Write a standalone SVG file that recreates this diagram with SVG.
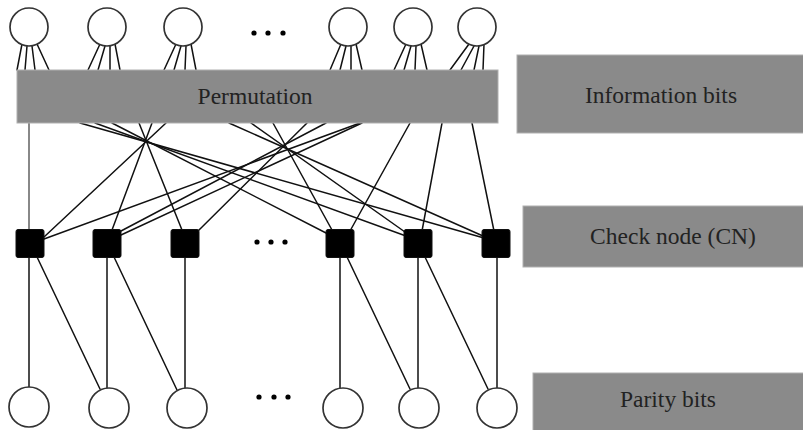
<svg xmlns="http://www.w3.org/2000/svg" width="803" height="430" viewBox="0 0 803 430">
<style>
.bar{fill:#8a8a8a;stroke:#b0b0b0;stroke-width:1}
.lbl{font-family:"Liberation Serif","Times New Roman",serif;font-size:23.5px;fill:#222;text-anchor:middle}
.vn{fill:#fff;stroke:#333;stroke-width:1.7}
.cn{fill:#000;stroke:#111;stroke-width:1}
.e{stroke:#111;stroke-width:1.5;fill:none;stroke-linecap:round}
.g{stroke:#888;stroke-width:2;fill:none}
.dot{fill:#000}
</style>
<rect width="803" height="430" fill="#fff"/>
<g id="connectors">
  <!-- legs of information bit nodes -->
  <g class="e">
    <path d="M22,44 L17,70 M27,46 L25,70 M32,46 L35,70 M37,44 L49,70"/>
    <path d="M100,44 L88,70 M105,46 L98,70 M110,46 L110,70 M115,44 L120,70"/>
    <path d="M176,44 L164,70 M181,46 L174,70 M186,46 L185,70 M191,44 L196,70"/>
    <path d="M341,44 L330,70 M346,46 L340,70 M351,46 L351,70 M356,44 L362,70"/>
    <path d="M406,44 L394,70 M411,46 L404,70 M416,46 L415,70 M421,44 L427,70"/>
    <path d="M469,44 L450,70 M474,46 L461,70 M479,46 L474,70 M484,44 L483,70"/>
  </g>
  <!-- permutation to check nodes -->
  <line class="g" x1="29" y1="123" x2="29" y2="230"/>
  <g class="e">
    <line x1="166" y1="123" x2="44" y2="237"/>
    <line x1="152" y1="123" x2="112" y2="230"/>
    <line x1="139" y1="123" x2="182" y2="230"/>
    <line x1="80" y1="123" x2="484" y2="238"/>
    <line x1="95" y1="123" x2="406" y2="236"/>
    <line x1="112" y1="123" x2="328" y2="234"/>
    <line x1="273" y1="123" x2="332" y2="230"/>
    <line x1="251" y1="123" x2="405" y2="232"/>
    <line x1="229" y1="123" x2="483" y2="236"/>
    <line x1="307" y1="123" x2="198" y2="231"/>
    <line x1="326" y1="123" x2="121" y2="231"/>
    <line x1="362" y1="123" x2="121" y2="235"/>
    <line x1="360" y1="123" x2="44" y2="239"/>
    <line x1="410" y1="123" x2="350" y2="231"/>
    <line x1="442" y1="123" x2="422" y2="231"/>
    <line x1="472" y1="123" x2="494" y2="231"/>
  </g>
  <!-- check nodes to parity bits -->
  <g class="e">
    <line x1="29" y1="257" x2="29" y2="387"/>
    <line x1="37" y1="257" x2="100" y2="389"/>
    <line x1="107" y1="257" x2="107" y2="388"/>
    <line x1="114" y1="257" x2="177" y2="390"/>
    <line x1="185" y1="257" x2="185" y2="388"/>
    <line x1="340" y1="257" x2="340" y2="388"/>
    <line x1="347" y1="257" x2="410" y2="389"/>
    <line x1="418" y1="257" x2="418" y2="388"/>
    <line x1="425" y1="257" x2="488" y2="389"/>
    <line x1="497" y1="257" x2="497" y2="388"/>
  </g>
</g>
<g id="info-bits">
  <circle class="vn" cx="29" cy="27" r="19"/>
  <circle class="vn" cx="107" cy="27" r="19"/>
  <circle class="vn" cx="183" cy="27" r="19"/>
  <circle class="vn" cx="348" cy="27" r="19"/>
  <circle class="vn" cx="413" cy="27" r="19"/>
  <circle class="vn" cx="477" cy="27" r="19"/>
  <circle class="dot" cx="254" cy="33" r="2.6"/>
  <circle class="dot" cx="268" cy="33" r="2.6"/>
  <circle class="dot" cx="283" cy="33" r="2.6"/>
</g>
<g id="permutation">
  <rect class="bar" x="17" y="70" width="481" height="53"/>
  <text class="lbl" x="255" y="104">Permutation</text>
</g>
<g id="check-nodes">
  <rect class="cn" x="16" y="229.5" width="28" height="28" rx="2"/>
  <rect class="cn" x="93" y="229.5" width="28" height="28" rx="2"/>
  <rect class="cn" x="171" y="229.5" width="28" height="28" rx="2"/>
  <rect class="cn" x="326" y="229.5" width="28" height="28" rx="2"/>
  <rect class="cn" x="404" y="229.5" width="28" height="28" rx="2"/>
  <rect class="cn" x="482" y="229.5" width="28" height="28" rx="2"/>
  <circle class="dot" cx="257" cy="242" r="2.6"/>
  <circle class="dot" cx="271" cy="242" r="2.6"/>
  <circle class="dot" cx="285" cy="242" r="2.6"/>
</g>
<g id="parity-bits">
  <circle class="vn" cx="29" cy="407" r="20"/>
  <circle class="vn" cx="109" cy="408" r="20"/>
  <circle class="vn" cx="187" cy="408" r="20"/>
  <circle class="vn" cx="343" cy="408" r="20"/>
  <circle class="vn" cx="419" cy="408" r="20"/>
  <circle class="vn" cx="497" cy="408" r="20"/>
  <circle class="dot" cx="259" cy="397" r="2.6"/>
  <circle class="dot" cx="274" cy="397" r="2.6"/>
  <circle class="dot" cx="288" cy="397" r="2.6"/>
</g>
<g id="label-info">
  <rect class="bar" x="517" y="55" width="290" height="78"/>
  <text class="lbl" x="661" y="103">Information bits</text>
</g>
<g id="label-cn">
  <rect class="bar" x="523" y="206" width="284" height="61"/>
  <text class="lbl" x="673" y="244">Check node (CN)</text>
</g>
<g id="label-parity">
  <rect class="bar" x="533" y="373" width="274" height="62"/>
  <text class="lbl" x="668" y="407">Parity bits</text>
</g>
</svg>
